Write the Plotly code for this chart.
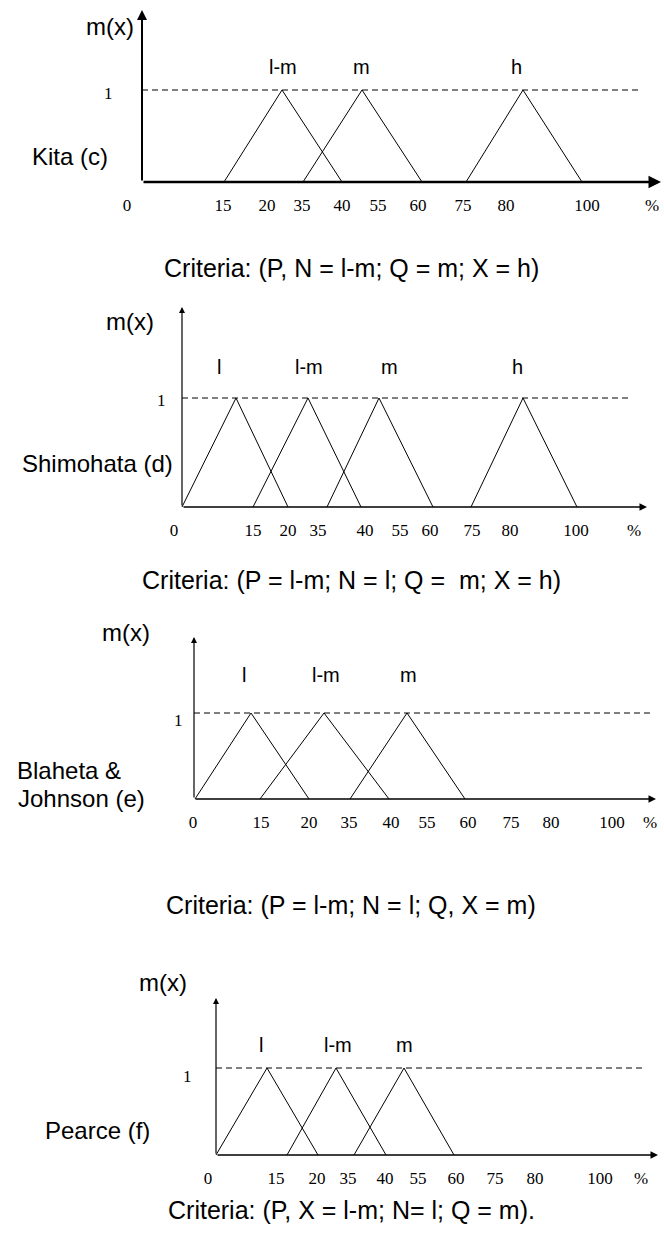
import plotly.graph_objects as go

W, H = 664, 1243

# ---------- DATA ----------
# x positions are axis units measured from the origin of each panel's axis
TICK_TEXT = ["0", "15", "20", "35", "40", "55", "60", "75", "80", "100", "%"]

kita_ticks = [-15, 81, 125, 160, 200, 236, 276, 321, 364, 445, 510]
kita_sets = ["l-m", "m", "h"]
kita_start = [82, 161, 324]
kita_peak = [140, 220, 381]
kita_end = [200, 280, 440]

shim_ticks = [-8, 71, 106, 136, 183, 218, 248, 290, 328, 394, 452]
shim_sets = ["l", "l-m", "m", "h"]
shim_start = [0, 71, 145, 289]
shim_peak = [54, 126, 197, 341]
shim_end = [106, 179, 251, 395]

blah_ticks = [-1, 67, 115, 155, 197, 233, 274, 317, 357, 418, 456]
blah_sets = ["l", "l-m", "m"]
blah_start = [1, 66, 156]
blah_peak = [57, 130, 213]
blah_end = [115, 195, 271]

pear_ticks = [-8, 60, 101, 132, 169, 202, 240, 279, 319, 384, 425]
pear_sets = ["l", "l-m", "m"]
pear_start = [0, 71, 138]
pear_peak = [51, 120, 188]
pear_end = [102, 170, 238]

captions = [
    "Criteria: (P, N = l-m; Q = m; X = h)",
    "Criteria: (P = l-m; N = l; Q =  m; X = h)",
    "Criteria: (P = l-m; N = l; Q, X = m)",
    "Criteria: (P, X = l-m; N= l; Q = m).",
]

# ---------- LAYOUT (pixels in the 664x1243 page) ----------
panels = [
    dict(ticks=kita_ticks, sets=kita_sets, start=kita_start, peak=kita_peak, end=kita_end,
         origin=142, axis=182, dash=90, top=10, arrow_end=519, dash_end=497, lw=2.5,
         name=[("Kita (c)", 70, 157, "center")], mx=(110, 26), one=(108, 93),
         lab_x=[283, 361, 516], lab_y=67, cap_y=268),
    dict(ticks=shim_ticks, sets=shim_sets, start=shim_start, peak=shim_peak, end=shim_end,
         origin=182, axis=507, dash=398, top=307, arrow_end=465, dash_end=447, lw=1.5,
         name=[("Shimohata (d)", 97, 463, "center")], mx=(130, 322), one=(161, 400),
         lab_x=[219, 309, 389, 517], lab_y=367, cap_y=580),
    dict(ticks=blah_ticks, sets=blah_sets, start=blah_start, peak=blah_peak, end=blah_end,
         origin=194, axis=799, dash=713, top=637, arrow_end=462, dash_end=460, lw=1.5,
         name=[("Blaheta &", 15, 770, "left"), ("Johnson (e)", 16, 798, "left")],
         mx=(126, 632), one=(178, 720),
         lab_x=[244, 326, 408], lab_y=675, cap_y=905),
    dict(ticks=pear_ticks, sets=pear_sets, start=pear_start, peak=pear_peak, end=pear_end,
         origin=216, axis=1155, dash=1068, top=998, arrow_end=442, dash_end=428, lw=1.5,
         name=[("Pearce (f)", 97, 1130, "center")], mx=(163, 982), one=(187, 1076),
         lab_x=[261, 338, 404], lab_y=1045, cap_y=1210),
]

SANS = "Liberation Sans Narrow, Arial Narrow, Liberation Sans, Arial, sans-serif"
SERIF = "Liberation Serif, Times New Roman, serif"


def add_text(fig, txt, x, y, family, size, anchor="center"):
    # x, y in page pixels from the top-left corner
    fig.add_annotation(x=x / W, y=1 - y / H, xref="paper", yref="paper", text=txt,
                       showarrow=False, xanchor=anchor, yanchor="middle",
                       font=dict(family=family, size=size, color="black"))


fig = go.Figure()
layout = {}

for i, p in enumerate(panels, start=1):
    xa = "x" if i == 1 else f"x{i}"
    ya = "y" if i == 1 else f"y{i}"
    ytop = (p["axis"] - p["top"]) / (p["axis"] - p["dash"])

    # membership = 1 reference line
    fig.add_trace(go.Scatter(x=[0, p["dash_end"]], y=[1, 1], mode="lines",
                             line=dict(color="black", width=1, dash="6px,4px"),
                             xaxis=xa, yaxis=ya, hoverinfo="skip", showlegend=False))
    # triangular membership functions
    for s, pk, e in zip(p["start"], p["peak"], p["end"]):
        fig.add_trace(go.Scatter(x=[s, pk, e], y=[0, 1, 0], mode="lines",
                                 line=dict(color="black", width=1),
                                 xaxis=xa, yaxis=ya, hoverinfo="skip", showlegend=False))

    # axis arrows
    fig.add_annotation(x=p["arrow_end"], y=0, ax=0, ay=0, xref=xa, yref=ya, axref=xa, ayref=ya,
                       text="", showarrow=True, arrowhead=2, arrowsize=1,
                       arrowwidth=p["lw"], arrowcolor="black")
    fig.add_annotation(x=0, y=ytop, ax=0, ay=0, xref=xa, yref=ya, axref=xa, ayref=ya,
                       text="", showarrow=True, arrowhead=2, arrowsize=1,
                       arrowwidth=2 if i == 1 else 1.2, arrowcolor="black")

    key = "" if i == 1 else str(i)
    layout["xaxis" + key] = dict(domain=[0, 1], range=[-p["origin"], W - p["origin"]],
                                 anchor=ya, tickvals=p["ticks"], ticktext=TICK_TEXT,
                                 ticks="", showgrid=False, zeroline=False, showline=False,
                                 tickfont=dict(family=SERIF, size=17, color="black"),
                                 ticklabelstandoff=11, ticklabeloverflow="allow",
                                 fixedrange=True)
    layout["yaxis" + key] = dict(domain=[1 - p["axis"] / H, 1 - p["top"] / H],
                                 range=[0, ytop], anchor=xa, visible=False, fixedrange=True)

    # texts
    for txt, tx, ty, anc in p["name"]:
        add_text(fig, txt, tx, ty, SANS, 24, anc)
    add_text(fig, "m(x)", p["mx"][0], p["mx"][1], SANS, 24)
    add_text(fig, "1", p["one"][0], p["one"][1], SERIF, 17)
    for name, lx in zip(p["sets"], p["lab_x"]):
        add_text(fig, name, lx, p["lab_y"], SANS, 20)
    add_text(fig, captions[i - 1], 351, p["cap_y"], SANS, 25)

fig.update_layout(width=W, height=H, margin=dict(l=0, r=0, t=0, b=0),
                  paper_bgcolor="white", plot_bgcolor="white", showlegend=False,
                  **layout)

# page body margin removed so the figure sits at the window's top-left corner
fig.write_html("out.html", config={"displayModeBar": False},
               post_script="document.body.style.margin='0px';document.body.style.overflow='hidden';")
